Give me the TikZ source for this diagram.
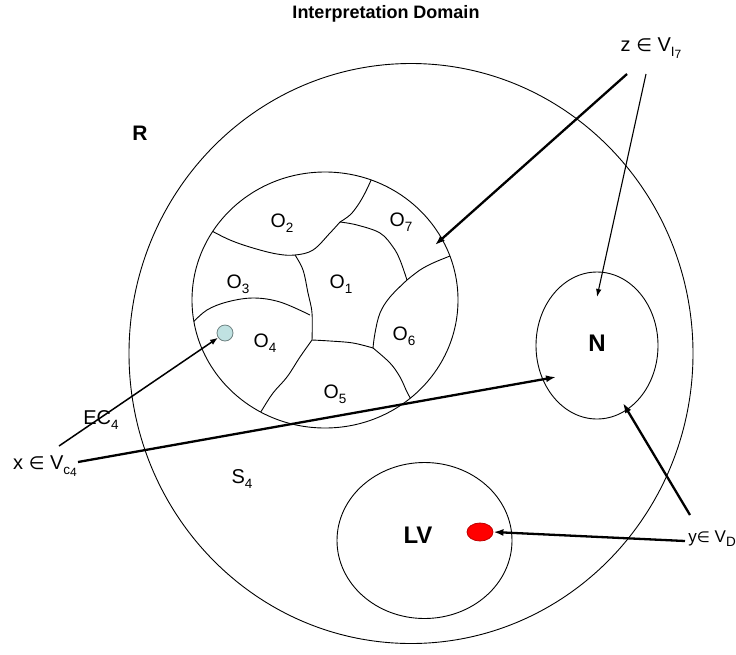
\documentclass[tikz,border=0pt]{standalone}
\usepackage{fontspec}
\setmainfont{Liberation Sans}
\newfontfamily\djv{DejaVu Sans}
\usetikzlibrary{arrows.meta,shapes.geometric,calc}
\newcommand{\lsub}[1]{\raisebox{-0.45ex}{\fontsize{13.5}{14}\selectfont #1}}
\newcommand{\lsubb}[1]{\raisebox{-0.35ex}{\fontsize{12}{12}\selectfont #1}}
\newcommand{\elt}{{\djv\fontsize{18}{18}\selectfont ∈}}
\begin{document}
\begin{tikzpicture}[x=1pt,y=-1pt,
  lbl/.style={inner sep=0pt, font=\fontsize{20}{22}\selectfont},
  olbl/.style={inner sep=0pt, font=\fontsize{19.5}{22}\selectfont},
  boldlbl/.style={inner sep=0pt, font=\fontsize{24}{26}\selectfont\bfseries},
  region/.style={draw, ellipse, line width=0.9pt, inner sep=0pt, outer sep=0pt},
  partline/.style={line width=0.9pt},
  bigarrow/.style={line width=2.3pt, -{Latex[length=10pt,width=7pt]}},
  thinarrow/.style={line width=1.1pt, -{Latex[length=8pt,width=5.5pt]}},
  medarrow/.style={line width=1.5pt, -{Latex[length=8pt,width=6pt]}},
]
\useasboundingbox (0,0) rectangle (736,654);

% regions
\node[region, minimum width=564pt, minimum height=580pt] (Rc) at (411,353.5) {};
\node[region, minimum width=266pt, minimum height=256pt] (Oc) at (325,300) {};
\node[region, minimum width=122pt, minimum height=147pt] (Nc) at (597,345.5) {};
\node[region, minimum width=175pt, minimum height=156pt] (LVc) at (424.5,540.5) {};

% partitions of the object circle
\begin{scope}
\clip (325,300) ellipse [x radius=133pt, y radius=128pt];
\draw[partline] plot[smooth, tension=0.6] coordinates {(375,170) (372,178) (365,193) (358,205) (350,215) (340,222)};
\draw[partline] plot[smooth, tension=0.6] coordinates {(340,222) (357,225) (380,233) (393,247) (400,260) (407,280)};
\draw[partline] plot[smooth, tension=0.6] coordinates {(407,280) (420,270) (433,263) (450,256) (458,253)};
\draw[partline] plot[smooth, tension=0.6] coordinates {(200,225) (208,229) (230,240) (253,248) (277,254) (295,255) (313,250) (330,233) (340,222)};
\draw[partline] plot[smooth, tension=0.6] coordinates {(295,255) (303,270) (308,293) (312,313) (312,340)};
\draw[partline] plot[smooth, tension=0.6] coordinates {(185,328) (192,323) (207,310) (227,302) (253,298) (280,302) (310,315)};
\draw[partline] plot[smooth, tension=0.6] coordinates {(312,340) (300,357) (287,377) (273,393) (262,410) (257,418)};
\draw[partline] plot[smooth, tension=0.6] coordinates {(312,340) (330,341) (353,343) (373,348)};
\draw[partline] plot[smooth, tension=0.6] coordinates {(373,348) (390,363) (400,377) (407,392) (412,401)};
\draw[partline] plot[smooth, tension=0.6] coordinates {(373,348) (375,333) (380,313) (390,297) (407,280)};
\end{scope}

% dots
\node[circle, draw={rgb,255:red,110;green,130;blue,130}, fill={rgb,255:red,192;green,226;blue,226}, line width=0.8pt, minimum size=16pt, inner sep=0pt] (cy) at (225,333) {};
\node[ellipse, draw={rgb,255:red,190;green,0;blue,0}, fill=red, line width=0.8pt, minimum width=26pt, minimum height=18pt, inner sep=0pt] (rd) at (480,532) {};

% texts
\node[inner sep=0pt, font=\fontsize{18}{20}\selectfont\bfseries] (title) at (386,14) {Interpretation Domain};
\node[inner sep=0pt, font=\fontsize{21}{24}\selectfont\bfseries] (Rl) at (140,133) {R};
\node[boldlbl] (Nl) at (597,343) {N};
\node[boldlbl] (LVl) at (418,535) {LV};
\node[olbl] (o1) at (341,284) {O\lsub{1}};
\node[olbl] (o2) at (282,223) {O\lsub{2}};
\node[olbl] (o3) at (238,284) {O\lsub{3}};
\node[olbl] (o4) at (265,343) {O\lsub{4}};
\node[olbl] (o5) at (335,394) {O\lsub{5}};
\node[olbl] (o6) at (404,336) {O\lsub{6}};
\node[olbl] (o7) at (401,222) {O\lsub{7}};
\node[lbl] (zl) at (651,48) {z \elt{} V\lsub{I\lsubb{7}}};
\node[lbl] (xl) at (45,466) {x \elt{} V\lsub{c\lsubb{4}}};
\node[lbl, anchor=east, font=\fontsize{17}{20}\selectfont] (yl) at (736,539) {y{\djv\fontsize{15}{15}\selectfont ∈} V\lsub{D}};
\node[lbl] (ecl) at (101,420) {EC\lsub{4}};
\node[lbl] (sl) at (242,479) {S\lsub{4}};

% connector ends
\coordinate (zt1) at (627,74);
\coordinate (zt2) at (646,74);
\coordinate (o7h) at (435,245);
\coordinate (nh1) at (597,297);
\coordinate (xt1) at (59,446);
\coordinate (xt2) at (78,462);
\coordinate (nh2) at (556,377);
\coordinate (yt1) at (690,515);
\coordinate (nh3) at (623,403);
\coordinate (yt2) at (685,541);

% connectors
\draw[bigarrow] (zt1) -- (o7h);
\draw[thinarrow] (zt2) -- (nh1);
\draw[medarrow] (xt1) -- (cy);
\draw[bigarrow] (xt2) -- (nh2);
\draw[bigarrow] (yt1) -- (nh3);
\draw[bigarrow] (yt2) -- (rd.east);
\end{tikzpicture}
\end{document}
